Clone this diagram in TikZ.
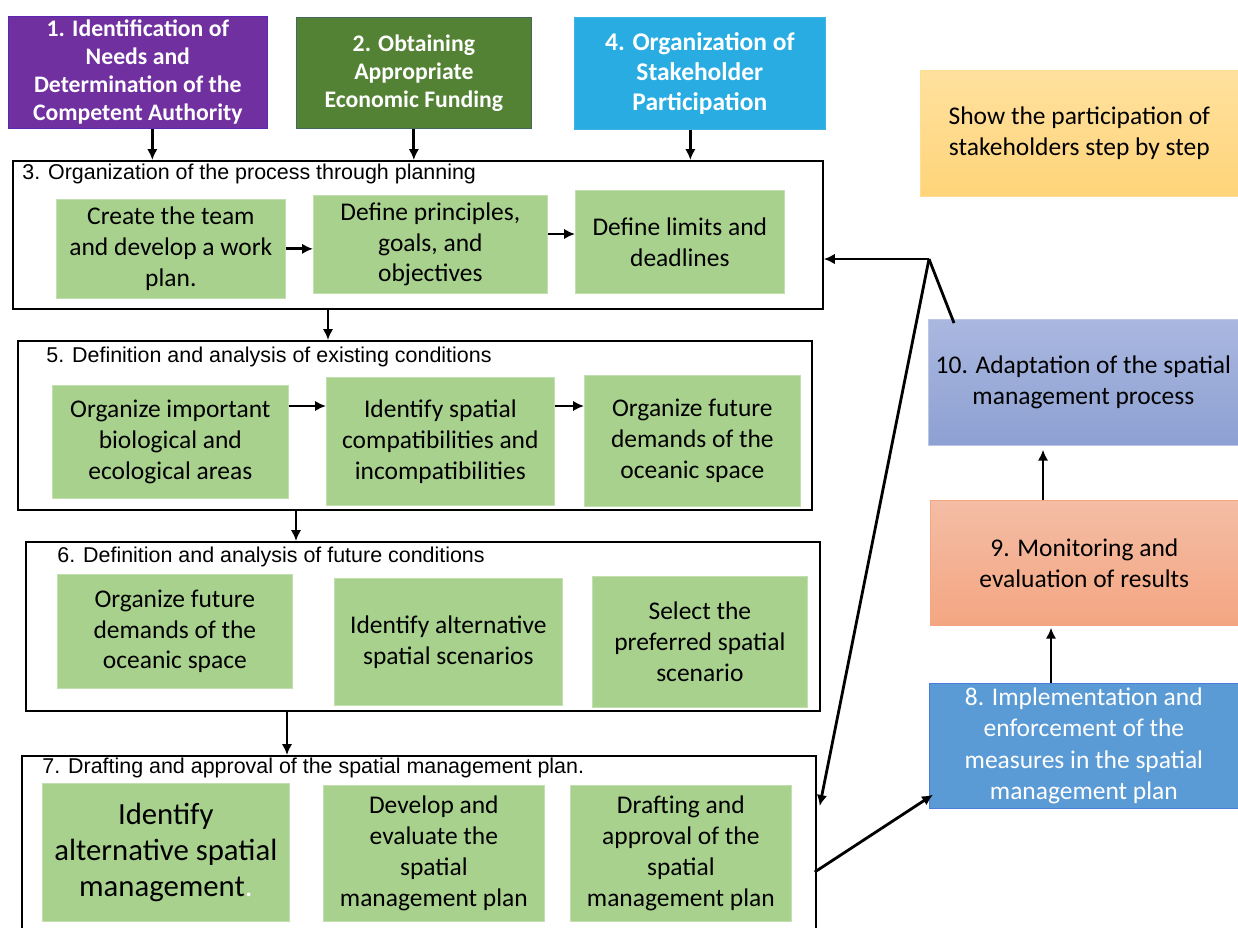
\documentclass[tikz,border=0pt]{standalone}
\usepackage{fontspec}
\setmainfont{Carlito}
\newfontfamily\arialfont{Liberation Sans}
\usetikzlibrary{arrows.meta,positioning,calc}
\definecolor{stepviolet}{HTML}{7030A0}
\definecolor{stepolive}{HTML}{548235}
\definecolor{stepsky}{HTML}{29ACE2}
\definecolor{taskgreen}{HTML}{A9D18E}
\definecolor{notetop}{HTML}{FFE19E}
\definecolor{notebot}{HTML}{FFD47A}
\definecolor{adapttop}{HTML}{AAB8E0}
\definecolor{adaptbot}{HTML}{8DA0D2}
\definecolor{montop}{HTML}{F4BDA5}
\definecolor{monbot}{HTML}{F4A682}
\definecolor{implblue}{HTML}{5B9BD5}

\begin{document}
\begin{tikzpicture}[x=0.02cm, y=-0.02cm,
  every node/.style={inner sep=2pt, align=center},
  sz/.style 2 args={minimum width=#1*0.02cm, minimum height=#2*0.02cm, anchor=north west},
  head/.style={rectangle, text=white, font=\fontsize{13.5}{16}\selectfont\bfseries},
  task/.style={rectangle, fill=taskgreen, draw=taskgreen!70!white, font=\fontsize{14.5}{17.6}\selectfont},
  stage/.style={rectangle, draw=black, line width=1pt},
  ttl/.style={anchor=west, inner sep=0pt, font=\arialfont\fontsize{12.2}{14}\selectfont},
  side/.style={rectangle, font=\fontsize{14.5}{17.6}\selectfont},
  arr/.style={-{Latex[length=2.2mm,width=2.1mm]}, line width=1.6pt},
  link/.style={line width=1.6pt}
]
  \useasboundingbox (0,0) rectangle (1238,927);

  % top steps
  \node[head, sz={259}{112}, fill=stepviolet, draw=stepviolet!80!blue] (n1) at (8,16)
    {1. Identification of\\Needs and\\Determination of the\\Competent Authority};
  \node[head, sz={235}{111}, fill=stepolive, draw=stepolive!80!blue] (n2) at (296,17)
    {2. Obtaining\\Appropriate\\Economic Funding};
  \node[head, sz={251}{112}, fill=stepsky, draw=stepsky!90!white,
        font=\fontsize{14.5}{17.2}\selectfont\bfseries] (n4) at (574,17)
    {4. Organization of\\Stakeholder\\Participation};
  \node[side, sz={318}{126}, top color=notetop, bottom color=notebot, draw=notebot!80!white] (note) at (920,70)
    {Show the participation of\\stakeholders step by step};

  % stage frames
  \node[stage, sz={810}{148}] (f3) at (12,160) {};
  \node[stage, sz={794}{169}] (f5) at (17,340) {};
  \node[stage, sz={794}{169}] (f6) at (25,541) {};
  \node[stage, sz={794}{200}] (f7) at (21,755) {};
  \node[ttl] (t3) at (22,174) {3. Organization of the process through planning};
  \node[ttl] (t5) at (46,357) {5. Definition and analysis of existing conditions};
  \node[ttl] (t6) at (57,557) {6. Definition and analysis of future conditions};
  \node[ttl] (t7) at (42,768) {7. Drafting and approval of the spatial management plan.};

  % stage 3
  \node[task, sz={229}{99}] (ga) at (56,199) {Create the team\\and develop a work\\plan.};
  \node[task, sz={234}{98}] (gb) at (313,195) {Define principles,\\goals, and\\objectives};
  \node[task, sz={209}{103}] (gc) at (575,190) {Define limits and\\deadlines};
  % stage 5
  \node[task, sz={236}{113}] (ea) at (52,385) {Organize important\\biological and\\ecological areas};
  \node[task, sz={228}{128}] (eb) at (326,377) {Identify spatial\\compatibilities and\\incompatibilities};
  \node[task, sz={216}{131}] (ec) at (584,375) {Organize future\\demands of the\\oceanic space};
  % stage 6
  \node[task, sz={235}{114}] (ua) at (57,574) {Organize future\\demands of the\\oceanic space};
  \node[task, sz={228}{127}] (ub) at (334,578) {Identify alternative\\spatial scenarios};
  \node[task, sz={215}{131}] (uc) at (592,576) {Select the\\preferred spatial\\scenario};
  % stage 7
  \node[task, sz={247}{138}, font=\fontsize{17.5}{20.5}\selectfont] (da) at (42,783)
    {Identify\\alternative spatial\\management{\color{white}.}};
  \node[task, sz={221}{136}] (db) at (323,785) {Develop and\\evaluate the\\spatial\\management plan};
  \node[task, sz={221}{136}] (dc) at (570,785) {Drafting and\\approval of the\\spatial\\management plan};

  % right column
  \node[side, sz={310}{126}, top color=adapttop, bottom color=adaptbot, draw=adapttop!80!white] (n10) at (928,319)
    {10. Adaptation of the spatial\\management process};
  \node[side, sz={308}{125}, top color=montop, bottom color=monbot, draw=monbot] (n9) at (930,500)
    {9. Monitoring and\\evaluation of results};
  \node[side, sz={309}{125}, fill=implblue, draw=implblue!80!blue, text=white,
        font=\fontsize{14.5}{18}\selectfont] (n8) at (929,683)
    {8. Implementation and\\enforcement of the\\measures in the spatial\\management plan};

  % arrows into stage 3
  \draw[arr] ([xshift=0.29cm]n1.south) -- ([xshift=0.29cm]n1.south |- f3.north);
  \draw[arr] (n2.south) -- (n2.south |- f3.north);
  \draw[arr] ([xshift=-0.19cm]n4.south) -- ([xshift=-0.19cm]n4.south |- f3.north);

  % arrows inside stages
  \draw[arr] (ga.east) -- (ga.east -| gb.west);
  \coordinate (b3) at ($(gb.north east)+(0,39)$);
  \draw[arr] (b3) -- (b3 -| gc.west);
  \coordinate (a5) at ($(ea.north east)+(0,21)$);
  \draw[arr] (a5) -- (a5 -| eb.west);
  \coordinate (b5) at ($(eb.north east)+(0,29)$);
  \draw[arr] (b5) -- (b5 -| ec.west);

  % arrows between stages
  \coordinate (d3) at ($(f3.south west)+(316,0)$);
  \draw[arr] (d3) -- (d3 |- f5.north);
  \coordinate (d5) at ($(f5.south west)+(279,0)$);
  \draw[arr] (d5) -- (d5 |- f6.north);
  \coordinate (d6) at ($(f6.south west)+(262,0)$);
  \draw[arr] (d6) -- (d6 |- f7.north);

  % right column links
  \draw[arr] ($(f7.north east)+(-2,117)$) -- ($(n8.south west)+(4,-14)$);
  \draw[arr] ($(n8.north west)+(122,0)$) -- ($(n9.south west)+(121,2)$);
  \draw[arr] ($(n9.north west)+(113,0)$) -- ($(n10.south west)+(115,4)$);
  \coordinate (apex) at (929,259);
  \draw[link] ($(n10.north west)+(26,4)$) -- (apex);
  \draw[arr] (apex) -- (apex -| f3.east);
  \draw[arr] (apex) -- ($(f7.north east)+(3,51)$);
\end{tikzpicture}
\end{document}
